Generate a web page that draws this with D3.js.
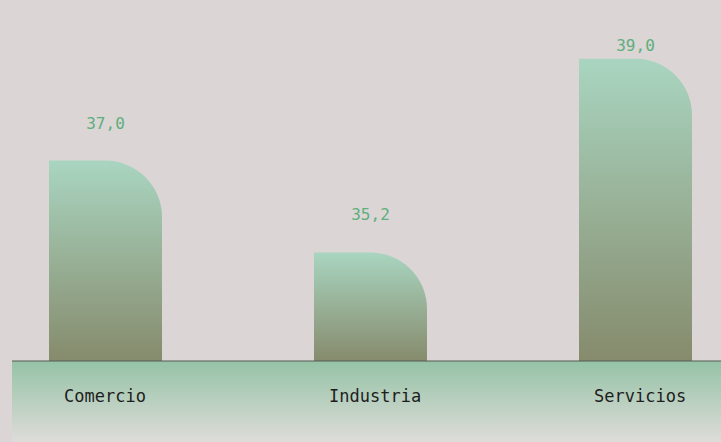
<!DOCTYPE html>
<html>
<head>
<meta charset="utf-8">
<script src="https://cdn.jsdelivr.net/npm/d3@7"></script>
<style>
  html, body { margin: 0; padding: 0; background: #dbd5d5; }
  svg { display: block; }
  text { font-family: "DejaVu Sans Mono", "Liberation Mono", monospace; }
</style>
</head>
<body>
<div id="chart"></div>
<script>
var categories = ["Comercio", "Industria", "Servicios"];
var values = [37.0, 35.2, 39.0];
var valueLabels = ["37,0", "35,2", "39,0"];

var width = 721,
    height = 442,
    baseY = 361;

var svg = d3.select("#chart").append("svg")
    .attr("width", width)
    .attr("height", height);

var defs = svg.append("defs");

var barGrad = defs.append("linearGradient")
    .attr("id", "barGrad")
    .attr("x1", 0).attr("y1", 0).attr("x2", 0).attr("y2", 1);
barGrad.append("stop").attr("offset", "0%").attr("stop-color", "#a9d5c0");
barGrad.append("stop").attr("offset", "100%").attr("stop-color", "#868b6c");

var axisGrad = defs.append("linearGradient")
    .attr("id", "axisGrad")
    .attr("x1", 0).attr("y1", 0).attr("x2", 0).attr("y2", 1);
axisGrad.append("stop").attr("offset", "0%").attr("stop-color", "#95c3a6");
axisGrad.append("stop").attr("offset", "100%").attr("stop-color", "#dedcd9");

// band scale runs past the right edge, like the original
var x = d3.scaleBand()
    .domain(categories)
    .range([-27, 768])
    .paddingInner(0.5736)
    .paddingOuter(0.2868);

var y = d3.scaleLinear()
    .domain([33.07, 40.15])
    .range([baseY, 0]);

// axis band
svg.append("rect")
    .attr("x", 12)
    .attr("y", baseY)
    .attr("width", width - 12)
    .attr("height", height - baseY)
    .style("fill", "url(#axisGrad)");

function barPath(d, i) {
  var x0 = x(categories[i]),
      w = x.bandwidth(),
      y0 = y(d),
      r = Math.min(w / 2, baseY - y0);
  return "M" + x0 + "," + baseY +
    "V" + y0 +
    "H" + (x0 + w - r) +
    "A" + r + "," + r + " 0 0 1 " + (x0 + w) + "," + (y0 + r) +
    "V" + baseY + "Z";
}

svg.selectAll(".bar")
    .data(values)
    .enter().append("path")
    .attr("class", "bar")
    .attr("d", barPath)
    .style("fill", "url(#barGrad)");

svg.append("line")
    .attr("x1", 12).attr("x2", width)
    .attr("y1", baseY).attr("y2", baseY)
    .style("stroke", "#555b55")
    .style("stroke-width", 1.2);

svg.selectAll(".val")
    .data(values)
    .enter().append("text")
    .attr("class", "val")
    .attr("x", function(d, i) { return x(categories[i]) + x.bandwidth() / 2; })
    .attr("y", function(d) { return Math.max(y(d) - 32, 51); })
    .attr("text-anchor", "middle")
    .style("font-size", "16px")
    .style("fill", "#5eaf7d")
    .text(function(d, i) { return valueLabels[i]; });

// category labels sit left-aligned inside each band
svg.selectAll(".cat")
    .data(categories)
    .enter().append("text")
    .attr("class", "cat")
    .attr("x", function(d) { return x(d) + 15; })
    .attr("y", 402)
    .attr("text-anchor", "start")
    .style("font-size", "17px")
    .style("fill", "#1e1e1e")
    .text(function(d) { return d; });
</script>
</body>
</html>
